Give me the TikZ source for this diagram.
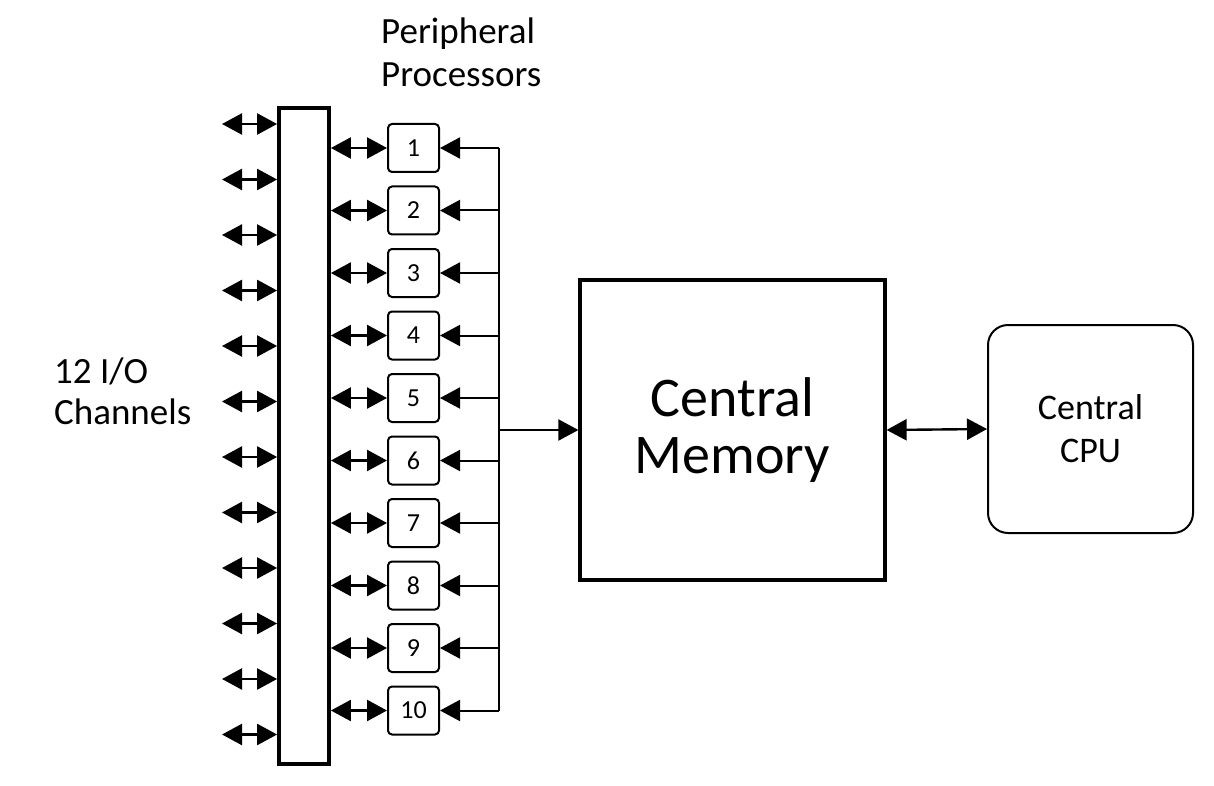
\documentclass[tikz,border=0pt]{standalone}
\usepackage{fontspec}
\setmainfont{Carlito}
\usetikzlibrary{arrows.meta,positioning}

\tikzset{
  ppbox/.style={draw, line width=2pt, rounded corners=4pt, minimum width=51pt, minimum height=48pt, inner sep=0pt, font=\fontsize{26}{30}\selectfont},
  dblarrow/.style={line width=2.4pt, {Triangle[length=20pt,width=21pt]}-{Triangle[length=20pt,width=21pt]}},
  onearrow/.style={line width=2pt, -{Triangle[length=20pt,width=21pt]}},
  label/.style={align=left, inner sep=0pt, anchor=north west}
}

\begin{document}
\begin{tikzpicture}[x=1pt, y=-1pt]
    \useasboundingbox (0,0) rectangle (1214,786);

    % Bus between the channels and the processors
    \node[draw, line width=3.8pt, minimum width=50pt, minimum height=656pt, inner sep=0pt] (bus) at (304,436) {};

    % 12 I/O channels
    \foreach \i in {0,...,11} {
        \coordinate (io\i) at (222,124+55.5*\i);
        \draw[dblarrow] (io\i) -- (io\i -| bus.west);
    }
    \node[label, font=\fontsize{37}{41}\selectfont] (iolabel) at (54,358) {12 I/O\\Channels};

    % Peripheral processors
    \coordinate (trunktop) at (499,148);
    \coordinate (trunkbot) at (499,710.5);
    \draw[line width=2pt] (trunktop) -- (trunkbot);
    \foreach \n in {1,...,10} {
        \node[ppbox] (pp\n) at (413.5,148+62.5*\n-62.5) {\n};
        \draw[dblarrow] (pp\n.west -| bus.east) -- (pp\n.west);
        \draw[onearrow] (pp\n.east -| trunktop) -- (pp\n.east);
    }
    \node[label, font=\fontsize{37}{43}\selectfont] (pplabel) at (381,18) {Peripheral\\Processors};

    % Central memory and CPU
    \node[draw, line width=3.2pt, minimum width=305pt, minimum height=300pt, align=center, font=\fontsize{56}{57}\selectfont] (mem) at (732.5,430) {Central\\Memory};
    \coordinate (tap) at (499,430);
    \draw[onearrow] (tap) -- (mem.west);

    \node[draw, line width=2pt, rounded corners=20pt, minimum width=205pt, minimum height=208pt, align=center, font=\fontsize{36}{43}\selectfont] (cpu) at (1090.5,429) {Central\\CPU};
    \draw[dblarrow] (mem.east) -- (cpu.west);

\end{tikzpicture}
\end{document}
